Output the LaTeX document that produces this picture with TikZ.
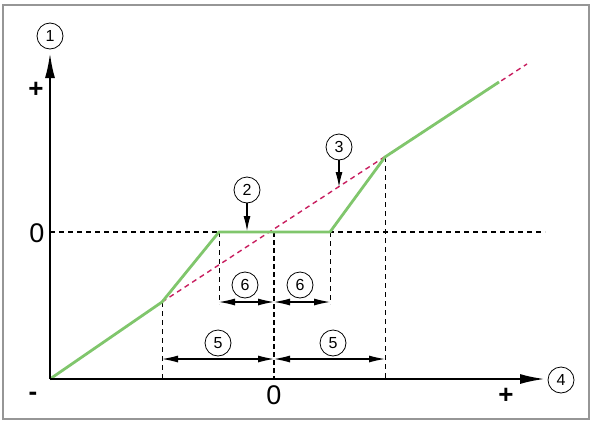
\documentclass[tikz,border=0pt]{standalone}
\usepackage{fontspec}
\setmainfont{Liberation Sans}
\usetikzlibrary{arrows.meta,positioning}
\definecolor{curveGreen}{RGB}{128,198,108}
\definecolor{refRed}{RGB}{200,30,95}
\definecolor{frameGray}{RGB}{150,150,150}

\begin{document}
\begin{tikzpicture}[x=1pt, y=-1pt,
  callout/.style={circle, draw, line width=0.8pt, inner sep=0pt, minimum size=26pt,
                  font=\fontsize{16}{16}\selectfont},
  sign/.style={font=\fontsize{26}{26}\selectfont\bfseries, inner sep=0pt},
  zero/.style={font=\fontsize{27}{27}\selectfont, inner sep=0pt},
  axis/.style={line width=2.2pt, -{Latex[length=25pt, width=10pt]}},
  pointer/.style={line width=1.1pt, -{Latex[length=15pt, width=7pt]}},
  dim/.style={line width=1.1pt, {Latex[length=16pt, width=7pt]}-{Latex[length=16pt, width=7pt]}},
  guide/.style={line width=0.8pt, dash pattern=on 5pt off 4pt},
  zeroline/.style={line width=1.8pt, dash pattern=on 5pt off 4pt},
  ideal/.style={refRed, line width=1.4pt, dash pattern=on 5pt off 4pt},
  curve/.style={curveGreen, line width=2.8pt, line join=round}]
  \useasboundingbox (0,0) rectangle (593,423);
  \draw[frameGray, line width=2pt] (3,5) rectangle (589,419);

  % axes
  \coordinate (o) at (50,379);
  \coordinate (ytip) at (50,53);
  \coordinate (xtip) at (545,379);
  \node[callout] (c1) at (50,36) {1};
  \node[callout] (c4) at (561,380) {4};
  \node[sign] (yplus) at (36,90) {+};
  \node[sign] (xplus) at (506,396) {+};
  \node[sign] (xminus) at (33,396) {-};
  \node[zero] (yzero) at (37,233) {0};
  \node[zero] (xzero) at (274,395) {0};

  % break points
  \coordinate (k1) at (162,302);
  \coordinate (k2) at (219,232);
  \coordinate (mid) at (274,232);
  \coordinate (k3) at (330,232);
  \coordinate (k4) at (385,157);
  \coordinate (k5) at (499,82);
  \coordinate (rend) at (527,64);

  % dashed guides
  \draw[zeroline] (50,232) -- (545,232);
  \draw[line width=2pt, dash pattern=on 5pt off 3pt] (mid) -- (274,379);
  \draw[guide] (k1) -- (162,379);
  \draw[guide] (k2) -- (219,304);
  \draw[guide] (k3) -- (330,304);
  \draw[guide] (k4) -- (385,379);

  \draw[ideal] (k1) -- (rend);
  \draw[curve] (o) -- (k1) -- (k2) -- (k3) -- (k4) -- (k5);

  \draw[axis] (o) -- (ytip);
  \draw[axis] (o) -- (xtip);

  % callouts on the curve
  \node[callout] (c2) at (247,190) {2};
  \coordinate (p2) at (247,231);
  \draw[pointer] (c2) -- (p2);
  \node[callout] (c3) at (339,147) {3};
  \coordinate (p3) at (339,187);
  \draw[pointer] (c3) -- (p3);

  % dimensions
  \coordinate (a6l) at (219,302);
  \coordinate (a6m) at (274,302);
  \coordinate (a6r) at (330,302);
  \draw[dim] (a6l) -- (a6m);
  \draw[dim] (a6m) -- (a6r);
  \node[callout] (c6a) at (245,285) {6};
  \node[callout] (c6b) at (300,285) {6};
  \coordinate (a5l) at (162,359);
  \coordinate (a5m) at (274,359);
  \coordinate (a5r) at (385,359);
  \draw[dim] (a5l) -- (a5m);
  \draw[dim] (a5m) -- (a5r);
  \node[callout] (c5a) at (218,343) {5};
  \node[callout] (c5b) at (333,343) {5};
\end{tikzpicture}
\end{document}
